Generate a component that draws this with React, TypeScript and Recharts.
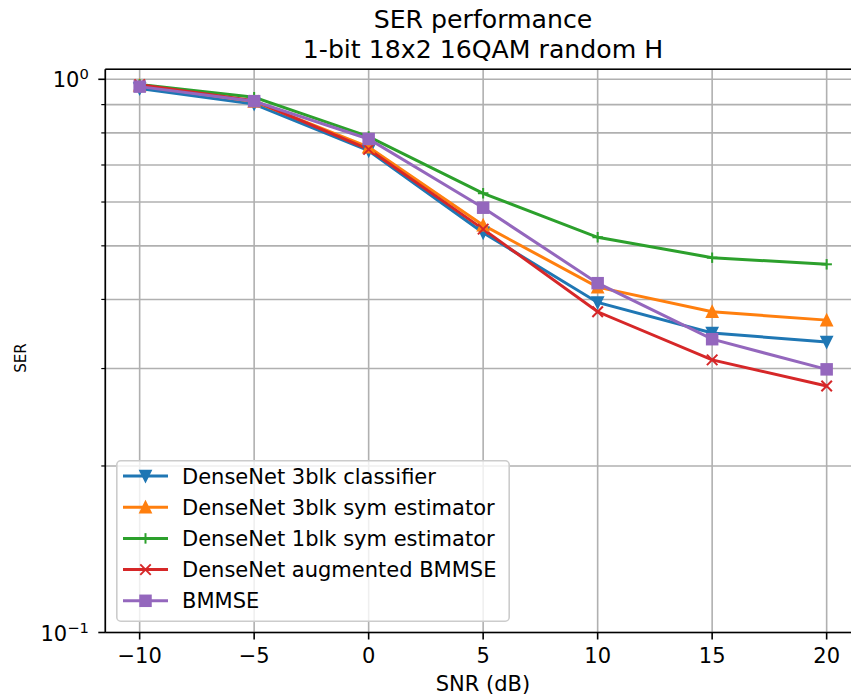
import React from 'react';
import { LineChart, Line, XAxis, YAxis, CartesianGrid, Legend } from 'recharts';

const SNR = [-10, -5, 0, 5, 10, 15, 20];
const DENSENET_3BLK_CLASSIFIER = [0.962, 0.902, 0.743, 0.528, 0.395, 0.348, 0.335];
const DENSENET_3BLK_SYM = [0.975, 0.912, 0.754, 0.545, 0.421, 0.38, 0.367];
const DENSENET_1BLK_SYM = [0.979, 0.928, 0.788, 0.622, 0.518, 0.476, 0.463];
const DENSENET_AUG_BMMSE = [0.978, 0.915, 0.747, 0.536, 0.38, 0.311, 0.279];
const BMMSE = [0.97, 0.913, 0.78, 0.586, 0.428, 0.339, 0.299];

const X_TICKS = [-10, -5, 0, 5, 10, 15, 20];
const Y_TICKS = [0.1, 0.2, 0.3, 0.4, 0.5, 0.6, 0.7, 0.8, 0.9, 1];
const TITLE_LINES = ['SER performance', '1-bit 18x2 16QAM random H'];
const X_LABEL = 'SNR (dB)';
const Y_LABEL = 'SER';

const FONT = '"DejaVu Sans", sans-serif';
const TICK_FS = 21;
const TITLE_FS = 25.2;
const MS = 10.5;

type Shape = 'tdown' | 'tup' | 'plus' | 'x' | 'square';
const SERIES: { key: string; name: string; color: string; shape: Shape; values: number[] }[] = [
  { key: 's1', name: 'DenseNet 3blk classifier', color: '#1f77b4', shape: 'tdown', values: DENSENET_3BLK_CLASSIFIER },
  { key: 's2', name: 'DenseNet 3blk sym estimator', color: '#ff7f0e', shape: 'tup', values: DENSENET_3BLK_SYM },
  { key: 's3', name: 'DenseNet 1blk sym estimator', color: '#2ca02c', shape: 'plus', values: DENSENET_1BLK_SYM },
  { key: 's4', name: 'DenseNet augmented BMMSE', color: '#d62728', shape: 'x', values: DENSENET_AUG_BMMSE },
  { key: 's5', name: 'BMMSE', color: '#9467bd', shape: 'square', values: BMMSE },
];

const DATA = SNR.map((snr, i) => {
  const row: Record<string, number> = { snr };
  SERIES.forEach((s) => {
    row[s.key] = s.values[i];
  });
  return row;
});

function Marker({ cx, cy, shape, color }: { cx: number; cy: number; shape: Shape; color: string }) {
  const h = MS / 2;
  if (cx == null || cy == null || isNaN(cx) || isNaN(cy)) return <g />;
  switch (shape) {
    case 'tdown':
      return (
        <polygon
          points={`${cx},${cy + h} ${cx - h},${cy - h} ${cx + h},${cy - h}`}
          fill={color}
          stroke={color}
          strokeWidth={2}
          strokeLinejoin="miter"
        />
      );
    case 'tup':
      return (
        <polygon
          points={`${cx},${cy - h} ${cx - h},${cy + h} ${cx + h},${cy + h}`}
          fill={color}
          stroke={color}
          strokeWidth={2}
          strokeLinejoin="miter"
        />
      );
    case 'square':
      return <rect x={cx - h} y={cy - h} width={MS} height={MS} fill={color} stroke={color} strokeWidth={2} />;
    case 'plus':
      return (
        <g stroke={color} strokeWidth={2}>
          <line x1={cx - h} x2={cx + h} y1={cy} y2={cy} />
          <line x1={cx} x2={cx} y1={cy - h} y2={cy + h} />
        </g>
      );
    case 'x':
      return (
        <g stroke={color} strokeWidth={2}>
          <line x1={cx - h} x2={cx + h} y1={cy - h} y2={cy + h} />
          <line x1={cx - h} x2={cx + h} y1={cy + h} y2={cy - h} />
        </g>
      );
  }
  return <g />;
}

const fmtX = (v: number) => (v < 0 ? `\u2212${Math.abs(v)}` : `${v}`);

const XTick = (props: any) => {
  const { x, y, payload } = props;
  return (
    <g>
      <line x1={x} x2={x} y1={y} y2={y + 7} stroke="#000" strokeWidth={1.6} />
      <text x={x} y={y + 30.5} textAnchor="middle" fontSize={TICK_FS} fontFamily={FONT} fill="#000">
        {fmtX(payload.value)}
      </text>
    </g>
  );
};

const YTick = (props: any) => {
  const { x, y, payload } = props;
  const v = payload.value;
  const major = Math.abs(v - 1) < 1e-9 || Math.abs(v - 0.1) < 1e-9;
  if (!major) {
    return <line x1={x - 4} x2={x} y1={y} y2={y} stroke="#000" strokeWidth={1.2} />;
  }
  const exp = Math.abs(v - 1) < 1e-9 ? '0' : '\u22121';
  return (
    <g>
      <line x1={x - 7} x2={x} y1={y} y2={y} stroke="#000" strokeWidth={1.6} />
      <text x={x - 16.5} y={y + 8} textAnchor="end" fontSize={TICK_FS} fontFamily={FONT} fill="#000">
        10
        <tspan dy={-8} fontSize={14.7}>
          {exp}
        </tspan>
      </text>
    </g>
  );
};

const LegendBox = () => {
  const rowY = [16, 47.2, 78.4, 109.6, 140.8];
  return (
    <svg width={394} height={162} style={{ display: 'block' }}>
      <rect x={0.8} y={0.8} width={392.4} height={160.4} rx={4} ry={4} fill="#ffffff" fillOpacity={0.8} stroke="#cccccc" strokeWidth={1.6} />
      {SERIES.map((s, i) => (
        <g key={s.key}>
          <line x1={7} x2={52} y1={rowY[i]} y2={rowY[i]} stroke={s.color} strokeWidth={3} />
          <Marker cx={29.5} cy={rowY[i]} shape={s.shape} color={s.color} />
          <text x={66} y={rowY[i] + 7.6} fontSize={TICK_FS} fontFamily={FONT} fill="#000">
            {s.name}
          </text>
        </g>
      ))}
    </svg>
  );
};

export default function App() {
  return (
    <div style={{ position: 'absolute', left: 0, top: 0, width: 851, height: 695, overflow: 'hidden', background: '#fff' }}>
      <LineChart width={862} height={695} data={DATA} margin={{ top: 69.3, right: 1, bottom: 0, left: 0 }}>
        <CartesianGrid stroke="#b0b0b0" strokeWidth={1.6} horizontal vertical />
        <XAxis
          dataKey="snr"
          type="number"
          domain={[-11.5, 21.5]}
          ticks={X_TICKS}
          allowDataOverflow
          height={62.5}
          tickSize={0}
          tickMargin={0}
          tickLine={false}
          axisLine={{ stroke: '#000', strokeWidth: 1.6 }}
          tick={<XTick />}
          interval={0}
        />
        <YAxis
          type="number"
          scale="log"
          domain={[0.1, 1.0425]}
          ticks={Y_TICKS}
          allowDataOverflow
          width={105.3}
          tickSize={0}
          tickMargin={0}
          tickLine={false}
          axisLine={{ stroke: '#000', strokeWidth: 1.6 }}
          tick={<YTick />}
          interval={0}
        />
        {SERIES.map((s) => (
          <Line
            key={s.key}
            dataKey={s.key}
            name={s.name}
            stroke={s.color}
            strokeWidth={3}
            type="linear"
            isAnimationActive={false}
            activeDot={false}
            dot={(p: any) => <Marker key={`${s.key}-${p.index}`} cx={p.cx} cy={p.cy} shape={s.shape} color={s.color} />}
          />
        ))}
        <line x1={105.3} x2={861} y1={69.3} y2={69.3} stroke="#000" strokeWidth={1.6} />
        <text x={483} y={28.3} textAnchor="middle" fontSize={TITLE_FS} fontFamily={FONT} fill="#000">
          {TITLE_LINES[0]}
        </text>
        <text x={483} y={57.8} textAnchor="middle" fontSize={TITLE_FS} fontFamily={FONT} fill="#000">
          {TITLE_LINES[1]}
        </text>
        <text x={483} y={691} textAnchor="middle" fontSize={TICK_FS} fontFamily={FONT} fill="#000">
          {X_LABEL}
        </text>
        <text x={26} y={358} textAnchor="middle" fontSize={15} fontFamily={FONT} fill="#000" transform="rotate(-90, 26, 358)">
          {Y_LABEL}
        </text>
        <Legend
          layout="horizontal"
          verticalAlign="middle"
          align="center"
          content={() => <LegendBox />}
          wrapperStyle={{ position: 'absolute', left: 116, top: 460, width: 394, height: 162, margin: 0, padding: 0 }}
        />
      </LineChart>
    </div>
  );
}
